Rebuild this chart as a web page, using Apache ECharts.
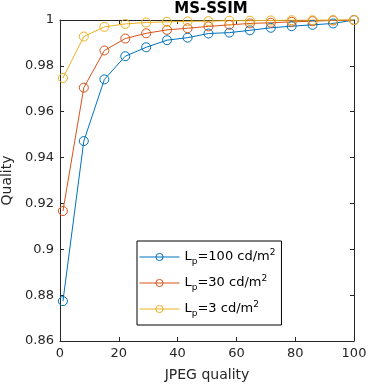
<!DOCTYPE html>
<html><head><meta charset="utf-8">
<script src="https://cdn.jsdelivr.net/npm/echarts@6/dist/echarts.min.js"></script>
<style>html,body{margin:0;padding:0;background:#fff}#c{width:369px;height:387px}</style>
</head><body><div id="c"></div>
<script>
const xValues = [1, 8.1, 15.1, 22.2, 29.3, 36.4, 43.4, 50.5, 57.6, 64.6, 71.7, 78.8, 85.9, 92.9, 100];
const lp100 = [0.8774, 0.9472, 0.9741, 0.9842, 0.9881, 0.9912, 0.9923, 0.9941, 0.9945, 0.9955, 0.9966, 0.9973, 0.9979, 0.9985, 1.0];
const lp30 = [0.9167, 0.9705, 0.9867, 0.9919, 0.9942, 0.9957, 0.9964, 0.9972, 0.9979, 0.9985, 0.9988, 0.9992, 0.9995, 0.9998, 1.0];
const lp3 = [0.9747, 0.9928, 0.9970, 0.9983, 0.9989, 0.9992, 0.9994, 0.9995, 0.9997, 0.9997, 0.9998, 0.9999, 0.9999, 1.0, 1.0];
const seriesNames = ['100', '30', '3'];
const seriesColors = ['#0072BD', '#D95319', '#EDB120'];
const xTicks = [0, 20, 40, 60, 80, 100];
const yTicks = [0.86, 0.88, 0.9, 0.92, 0.94, 0.96, 0.98, 1];

const FONT = 'DejaVu Sans';
const AX = '#262626';
const chart = echarts.init(document.getElementById('c'), null, {renderer: 'canvas'});
const pair = (arr) => arr.map((v, i) => [xValues[i], v]);
const datas = [lp100, lp30, lp3];

const baseAxis = (extra) => Object.assign({
  axisLine: {show: true, onZero: false, lineStyle: {color: AX, width: 1}},
  axisTick: {show: true, inside: true, length: 4, lineStyle: {color: AX}},
  splitLine: {show: false}
}, extra);

chart.setOption({
  animation: false,
  backgroundColor: '#fff',
  title: {text: 'MS-SSIM', left: 206, top: -3, textAlign: 'center',
    textStyle: {fontFamily: FONT, fontSize: 15, fontWeight: 'bold', color: '#000'}},
  grid: {left: 60, right: 15, top: 20, bottom: 46, containLabel: false, outerBoundsMode: 'none'},
  xAxis: [
    baseAxis({type: 'value', min: xTicks[0], max: xTicks[xTicks.length - 1], interval: 20, position: 'bottom',
      name: 'JPEG quality', nameLocation: 'middle', nameGap: 27,
      nameTextStyle: {fontFamily: FONT, fontSize: 14, color: AX},
      axisLabel: {fontFamily: FONT, fontSize: 13, color: AX, margin: 6}}),
    baseAxis({type: 'value', min: xTicks[0], max: xTicks[xTicks.length - 1], interval: 20, position: 'top',
      axisLabel: {show: false}})
  ],
  yAxis: [
    baseAxis({type: 'value', min: yTicks[0], max: yTicks[yTicks.length - 1], interval: 0.02, position: 'left',
      name: 'Quality', nameLocation: 'middle', nameGap: 41,
      nameTextStyle: {fontFamily: FONT, fontSize: 14, color: AX},
      axisLabel: {fontFamily: FONT, fontSize: 13, color: AX, margin: 6,
        formatter: v => String(parseFloat(v.toFixed(2)))}}),
    baseAxis({type: 'value', min: yTicks[0], max: yTicks[yTicks.length - 1], interval: 0.02, position: 'right',
      axisLabel: {show: false}})
  ],
  legend: {
    left: 137, top: 241, orient: 'vertical',
    backgroundColor: '#fff', borderColor: '#000', borderWidth: 1,
    padding: [6, 6, 6, 2], itemGap: 6, itemWidth: 40, itemHeight: 9,
    lineStyle: {width: 1},
    itemStyle: {borderWidth: 1, color: 'rgba(255,255,255,0)'},
    data: seriesNames.map(n => ({name: n})),
    formatter: n => '{a|L}{s|p}{a|=' + n + ' cd/m}{u|2}',
    textStyle: {
      fontFamily: FONT, fontSize: 13, color: '#000', lineHeight: 20,
      rich: {
        a: {fontFamily: FONT, fontSize: 13, color: '#000', lineHeight: 20},
        s: {fontFamily: FONT, fontSize: 9, color: '#000', padding: [9, 0, 0, 0], lineHeight: 20},
        u: {fontFamily: FONT, fontSize: 9, color: '#000', padding: [0, 0, 9, 0], lineHeight: 20}
      }
    }
  },
  series: seriesNames.map((n, i) => ({
    name: n, type: 'line', data: pair(datas[i]),
    symbol: 'circle', symbolSize: 9, showAllSymbol: true,
    color: seriesColors[i],
    lineStyle: {width: 1, color: seriesColors[i]},
    itemStyle: {color: 'rgba(255,255,255,0)', borderColor: seriesColors[i], borderWidth: 1},
    clip: false
  }))
});
</script></body></html>
